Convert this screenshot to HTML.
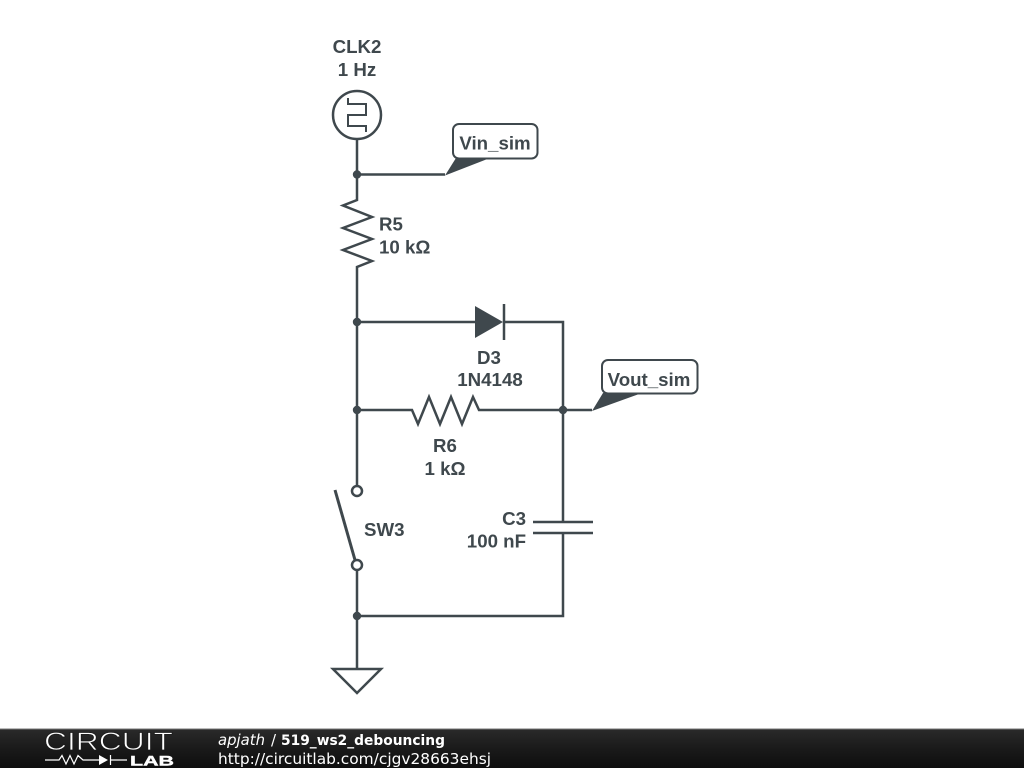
<!DOCTYPE html>
<html>
<head>
<meta charset="utf-8">
<style>
html,body{margin:0;padding:0;background:#fff;width:1024px;height:768px;overflow:hidden}
svg{display:block;position:absolute;left:0;top:0}
.l{font-family:"Liberation Sans",sans-serif;font-weight:bold;font-size:18.7px;fill:#3f484d}
.f{font-family:"DejaVu Sans",sans-serif;font-size:15px;fill:#fff}
</style>
</head>
<body>
<svg width="1024" height="768" viewBox="0 0 1024 768" xmlns="http://www.w3.org/2000/svg">
<defs>
<linearGradient id="g" x1="0" y1="0" x2="0" y2="1">
<stop offset="0" stop-color="#2a2a2a"/><stop offset="0.5" stop-color="#1a1a1a"/><stop offset="1" stop-color="#0e0e0e"/>
</linearGradient>
</defs>
<g fill="none" stroke="#3f484d" stroke-width="2.5">
<circle cx="357" cy="115" r="24"/>
<path stroke-width="2" d="M348 98V104H366V115H348V126H366V132"/>
<path d="M357 139V200L343 205.500L372 217L343 228L372 239L343 250L372 261L357 267V486"/>
<path d="M357 174.500H445"/>
<path d="M357 322H475M504 322H563V522M533 522H593M533 533H593M563 533V616H357"/>
<path d="M504 304V340"/>
<path d="M357 410H412L418 424L429 397L440 424L451 397L462 424L473 397L479 410H592"/>
<circle cx="357" cy="491" r="5"/>
<circle cx="357" cy="565" r="5"/>
<path d="M335 490L355 560" stroke-width="3"/>
<path d="M357 570V669"/>
<path d="M333 669H381L357 693Z"/>
</g>
<g fill="#3f484d">
<path d="M475 306L503 322L475 338Z"/>
<circle cx="357" cy="174.500" r="4.200"/>
<circle cx="357" cy="322" r="4.200"/>
<circle cx="357" cy="410" r="4.200"/>
<circle cx="563" cy="410" r="4.200"/>
<circle cx="357" cy="616" r="4.200"/>
</g>
<rect x="453" y="124" width="84.500" height="34.500" rx="6" fill="#fff" stroke="#3f484d" stroke-width="2"/>
<rect x="602" y="360" width="95.500" height="33.500" rx="6" fill="#fff" stroke="#3f484d" stroke-width="2"/>
<g fill="#3f484d">
<path d="M445 175.500L456 158H490Z"/>
<path d="M592 411L603 393H642Z"/>
</g>
<g>
<text class="l" x="357" y="53" text-anchor="middle">CLK2</text>
<text class="l" x="357" y="76" text-anchor="middle">1 Hz</text>
<text class="l" x="495" y="149.500" text-anchor="middle">Vin_sim</text>
<text class="l" x="379" y="230.500">R5</text>
<text class="l" x="379" y="253.500">10 kΩ</text>
<text class="l" x="489" y="364" text-anchor="middle">D3</text>
<text class="l" x="490" y="386" text-anchor="middle">1N4148</text>
<text class="l" x="649" y="386" text-anchor="middle">Vout_sim</text>
<text class="l" x="445" y="452" text-anchor="middle">R6</text>
<text class="l" x="445" y="475" text-anchor="middle">1 kΩ</text>
<text class="l" x="364" y="536">SW3</text>
<text class="l" x="526" y="525" text-anchor="end">C3</text>
<text class="l" x="526" y="547.500" text-anchor="end">100 nF</text>
</g>
<rect x="0" y="729" width="1024" height="39" fill="url(#g)"/>
<rect x="0" y="728.500" width="1024" height="1" fill="#777"/>
<text x="44" y="750" font-family="Liberation Sans,sans-serif" font-size="25" fill="#fff" stroke="#1c1c1c" stroke-width="0.8" textLength="129" lengthAdjust="spacingAndGlyphs">CIRCUIT</text>
<g fill="none" stroke="#fff" stroke-width="1.200">
<path d="M45 760H59L62 755.500L66 764L70 755.500L74 764L78 755.500L83 760H99M110.500 755V765M110.500 760H127"/>
</g>
<path d="M99 755L108 760L99 765Z" fill="#fff"/>
<text x="130" y="765.500" font-family="Liberation Sans,sans-serif" font-weight="bold" font-size="14" fill="#fff" stroke="#fff" stroke-width="0.4" textLength="44" lengthAdjust="spacingAndGlyphs">LAB</text>
<text class="f" x="218" y="745" font-style="italic" textLength="47" lengthAdjust="spacingAndGlyphs">apjath</text>
<text class="f" x="271" y="745">/</text>
<text class="f" x="281" y="745" font-weight="bold" textLength="164" lengthAdjust="spacingAndGlyphs" style="font-size:14px">519_ws2_debouncing</text>
<text class="f" x="218" y="764" textLength="273" lengthAdjust="spacingAndGlyphs">http://circuitlab.com/cjgv28663ehsj</text>
</svg>
</body>
</html>
